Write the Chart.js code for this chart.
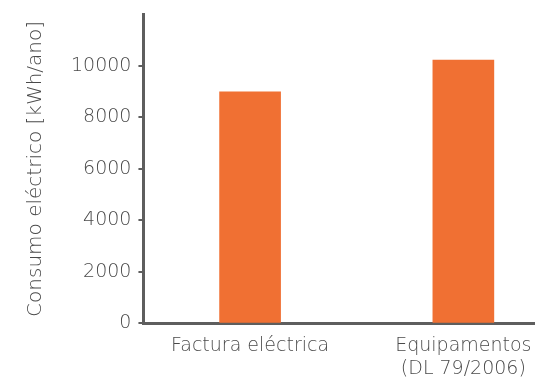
<!DOCTYPE html>
<html>
<head>
<meta charset="utf-8">
<script src="https://cdn.jsdelivr.net/npm/chart.js@4/dist/chart.umd.min.js"></script>
<style>
  html, body { margin: 0; padding: 0; background: #fff; overflow: hidden; }
  #wrap { width: 570px; height: 381px; margin-top: -4px; }
</style>
</head>
<body>
<div id="wrap"><canvas id="c" width="570" height="381"></canvas></div>
<script>
// Annual electricity consumption by estimation method
const categories = [["Factura eléctrica"], ["Equipamentos", "(DL 79/2006)"]];
const consumo = [8990, 10230];
const yTicks = [0, 2000, 4000, 6000, 8000, 10000];
const yTitle = "Consumo eléctrico [kWh/ano]";

const axisGrey = "#5e5e5e";
const textGrey = "#4a4a4a";
const fontFamily = "'DejaVu Sans', sans-serif";

new Chart(document.getElementById("c"), {
  type: "bar",
  data: {
    labels: categories,
    datasets: [{
      data: consumo,
      backgroundColor: "#F07033",
      barThickness: 61
    }]
  },
  options: {
    responsive: false,
    animation: false,
    layout: { padding: { left: 24, top: 8, right: 0, bottom: -14 } },
    plugins: { legend: { display: false }, tooltip: { enabled: false } },
    scales: {
      x: {
        grid: { display: false, drawTicks: false },
        border: { color: axisGrey, width: 3 },
        ticks: {
          color: textGrey,
          padding: 11,
          maxRotation: 0,
          font: { family: fontFamily, size: 19, weight: 300, lineHeight: 1.2 }
        }
      },
      y: {
        min: 0,
        max: 12000,
        afterBuildTicks: (axis) => { axis.ticks = yTicks.map(v => ({ value: v })); },
        grid: { drawOnChartArea: false, drawTicks: true, tickLength: 5, color: axisGrey, lineWidth: 2 },
        border: { color: axisGrey, width: 3 },
        ticks: {
          color: textGrey,
          padding: 7,
          callback: (v) => String(v),
          font: { family: fontFamily, size: 19, weight: 300 }
        },
        title: {
          display: true,
          text: yTitle,
          color: textGrey,
          padding: { top: 0, bottom: 16 },
          font: { family: fontFamily, size: 20, weight: 300 }
        }
      }
    }
  }
});
</script>
</body>
</html>
